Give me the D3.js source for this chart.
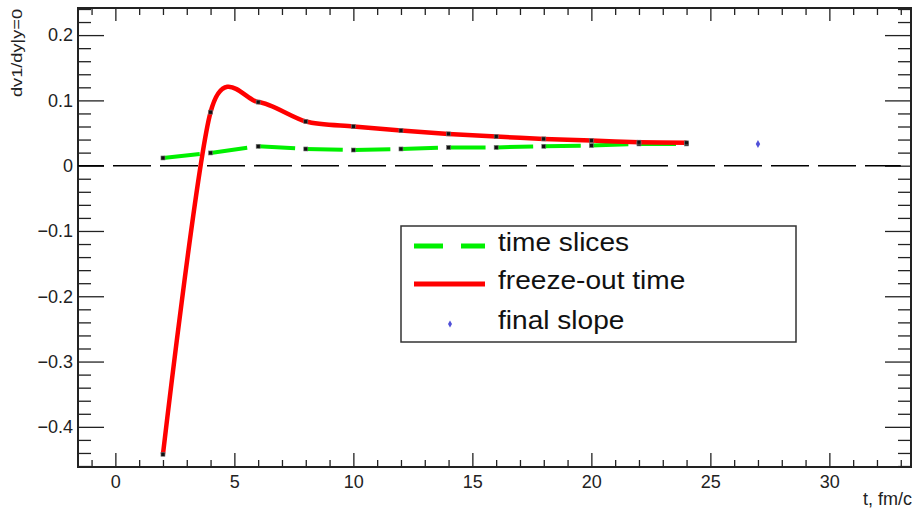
<!DOCTYPE html>
<html>
<head>
<meta charset="utf-8">
<script src="https://cdnjs.cloudflare.com/ajax/libs/d3/7.8.5/d3.min.js"></script>
<style>
  body { margin: 0; background: #fff; }
  text { font-family: "Liberation Sans", Arial, sans-serif; }
</style>
</head>
<body>
<script>
// data
var times = [2, 4, 6, 8, 10, 12, 14, 16, 18, 20, 22, 24];
var timeSlices = [0.0118, 0.0195, 0.0297, 0.0256, 0.024, 0.0256, 0.028, 0.028, 0.0297, 0.0308, 0.0333, 0.0333];
var freezeOut = [-0.442, 0.082, 0.0974, 0.0677, 0.060, 0.0538, 0.0487, 0.0446, 0.041, 0.0385, 0.036, 0.035];
var finalT = [27];
var finalSlope = [0.0333];

var xMajor = [0, 5, 10, 15, 20, 25, 30];
var yMajor = [-0.4, -0.3, -0.2, -0.1, 0, 0.1, 0.2];
var legendLabels = ["time slices", "freeze-out time", "final slope"];

var W = 912, H = 511;
var pLeft = 78, pRight = 911, pTop = 8, pBottom = 467;

var svg = d3.select("body").append("svg")
    .attr("width", W).attr("height", H);

var x = d3.scaleLinear().domain([-1.57, 33.43]).range([pLeft, pRight]);
var y = d3.scaleLinear().domain([-0.4615, 0.2415]).range([pBottom, pTop]);

var xMinor = d3.range(-1, 34).filter(function(v) { return v % 5 !== 0; });
var yMinor = d3.range(-46, 25, 2).map(function(v) { return v / 100; })
    .filter(function(v) { return Math.abs(v * 10 - Math.round(v * 10)) > 1e-6; });

function styleAxis(g) {
  g.select(".domain").remove();
  g.selectAll(".tick line").attr("stroke", "#222").attr("stroke-width", 1.3);
  g.selectAll(".tick text").attr("fill", "#222").style("font-size", "18px")
    .style("font-family", "'Liberation Sans', Arial, sans-serif");
}

// bottom
svg.append("g").attr("transform", "translate(0," + pBottom + ")")
  .call(d3.axisBottom(x).tickValues(xMajor).tickSize(-14).tickPadding(8).tickFormat(d3.format("d")))
  .call(styleAxis);
svg.append("g").attr("transform", "translate(0," + pBottom + ")")
  .call(d3.axisBottom(x).tickValues(xMinor).tickSize(-7).tickFormat(""))
  .call(styleAxis);
// top
svg.append("g").attr("transform", "translate(0," + pTop + ")")
  .call(d3.axisTop(x).tickValues(xMajor).tickSize(-13).tickFormat(""))
  .call(styleAxis);
svg.append("g").attr("transform", "translate(0," + pTop + ")")
  .call(d3.axisTop(x).tickValues(xMinor).tickSize(-7).tickFormat(""))
  .call(styleAxis);
// left
svg.append("g").attr("transform", "translate(" + pLeft + ",0)")
  .call(d3.axisLeft(y).tickValues(yMajor).tickSize(-26).tickPadding(5).tickFormat(d3.format("")))
  .call(styleAxis);
svg.append("g").attr("transform", "translate(" + pLeft + ",0)")
  .call(d3.axisLeft(y).tickValues(yMinor).tickSize(-13).tickFormat(""))
  .call(styleAxis);
// right
svg.append("g").attr("transform", "translate(" + pRight + ",0)")
  .call(d3.axisRight(y).tickValues(yMajor).tickSize(-26).tickFormat(""))
  .call(styleAxis);
svg.append("g").attr("transform", "translate(" + pRight + ",0)")
  .call(d3.axisRight(y).tickValues(yMinor).tickSize(-13).tickFormat(""))
  .call(styleAxis);

svg.append("rect")
    .attr("x", pLeft).attr("y", pTop)
    .attr("width", pRight - pLeft).attr("height", pBottom - pTop)
    .attr("fill", "none").attr("stroke", "#222").attr("stroke-width", 2);

// axis titles
svg.append("text")
    .attr("x", 912).attr("y", 505)
    .attr("text-anchor", "end")
    .style("font-size", "18px").attr("fill", "#222")
    .text("t, fm/c");

svg.append("text")
    .attr("transform", "translate(22,97) rotate(-90)")
    .attr("textLength", 88).attr("lengthAdjust", "spacingAndGlyphs")
    .style("font-size", "14.5px").attr("fill", "#222")
    .text("dv1/dy|y=0");

// zero line
svg.append("line")
    .attr("x1", x.range()[0]).attr("x2", x(33))
    .attr("y1", y(0)).attr("y2", y(0))
    .attr("stroke", "#000").attr("stroke-width", 1.5)
    .attr("stroke-dasharray", "38,9").attr("stroke-dashoffset", 12);

var ptsSlices = times.map(function(t, i) { return [t, timeSlices[i]]; });
var ptsFreeze = times.map(function(t, i) { return [t, freezeOut[i]]; });

var line = d3.line()
    .x(function(d) { return x(d[0]); })
    .y(function(d) { return y(d[1]); });

// green dashed, dash restarts each segment
svg.append("g").selectAll("path")
  .data(d3.pairs(ptsSlices))
  .join("path")
    .attr("d", function(d) { return line(d); })
    .attr("fill", "none")
    .attr("stroke", "#00f000")
    .attr("stroke-width", 4)
    .attr("stroke-dasharray", "37,11");

// red smooth curve
var smooth = d3.line()
    .x(function(d) { return x(d[0]); })
    .y(function(d) { return y(d[1]); })
    .curve(d3.curveCardinal.tension(0.15));

svg.append("path")
    .datum(ptsFreeze)
    .attr("d", smooth)
    .attr("fill", "none")
    .attr("stroke", "#ff0000")
    .attr("stroke-width", 4.5);

// markers
svg.append("g").selectAll("rect")
  .data(ptsSlices.concat(ptsFreeze))
  .join("rect")
    .attr("x", function(d) { return x(d[0]) - 2; })
    .attr("y", function(d) { return y(d[1]) - 2; })
    .attr("width", 4).attr("height", 4)
    .attr("fill", "#111")
    .attr("stroke", "#777").attr("stroke-width", 0.6);

// final slope diamond
svg.append("g").selectAll("path")
  .data(finalT.map(function(t, i) { return [t, finalSlope[i]]; }))
  .join("path")
    .attr("d", function(d) {
      var cx = x(d[0]), cy = y(d[1]);
      return "M" + cx + "," + (cy - 4) + "L" + (cx + 2.2) + "," + cy + "L" + cx + "," + (cy + 4) + "L" + (cx - 2.2) + "," + cy + "Z";
    })
    .attr("fill", "#5050d8");

// legend
var lg = svg.append("g");
lg.append("rect")
    .attr("x", 401).attr("y", 226).attr("width", 395).attr("height", 116)
    .attr("fill", "#fff").attr("stroke", "#333").attr("stroke-width", 1.5);

var rows = [246, 284, 324];
lg.append("line")
    .attr("x1", 414).attr("x2", 485).attr("y1", rows[0]).attr("y2", rows[0])
    .attr("stroke", "#00f000").attr("stroke-width", 5).attr("stroke-dasharray", "29,18");
lg.append("line")
    .attr("x1", 414).attr("x2", 485).attr("y1", rows[1]).attr("y2", rows[1])
    .attr("stroke", "#ff0000").attr("stroke-width", 5);
lg.append("path")
    .attr("d", "M450," + (rows[2] - 3.5) + "L452," + rows[2] + "L450," + (rows[2] + 3.5) + "L448," + rows[2] + "Z")
    .attr("fill", "#5050d8");

lg.selectAll("text.lab")
  .data(legendLabels)
  .join("text")
    .attr("class", "lab")
    .attr("x", 498)
    .attr("y", function(d, i) { return rows[i] + 5; })
    .style("font-size", "26px")
    .attr("fill", "#111")
    .text(function(d) { return d; })
    .each(function() {
      var w = this.getComputedTextLength();
      d3.select(this).attr("textLength", w * 1.08).attr("lengthAdjust", "spacingAndGlyphs");
    });
</script>
</body>
</html>
